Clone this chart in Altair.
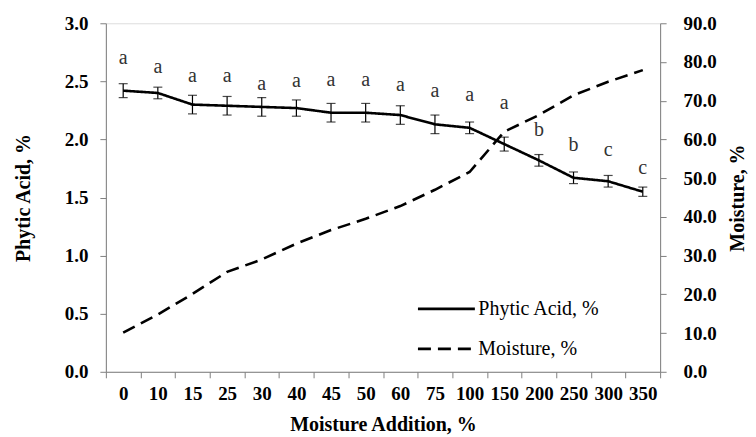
import altair as alt
import pandas as pd

categories = ["0", "10", "15", "25", "30", "40", "45", "50", "60", "75",
              "100", "150", "200", "250", "300", "350"]
phytic = [2.42, 2.40, 2.30, 2.29, 2.28, 2.27, 2.23, 2.23, 2.21, 2.13,
          2.10, 1.96, 1.82, 1.67, 1.64, 1.55]
phytic_err = [0.06, 0.05, 0.08, 0.08, 0.08, 0.07, 0.08, 0.08, 0.08, 0.08,
              0.05, 0.06, 0.05, 0.05, 0.05, 0.04]
moisture = [10.1, 14.8, 20.1, 25.8, 29.0, 33.1, 36.6, 39.5, 42.8, 47.0,
            51.6, 62.0, 66.3, 71.4, 74.9, 77.9]
letters = ["a"] * 12 + ["b", "b", "c", "c"]
letter_y = [2.70, 2.62, 2.55, 2.55, 2.48, 2.50, 2.51, 2.51, 2.47, 2.42,
            2.38, 2.31, 2.08, 1.95, 1.91, 1.75]
series_names = ["Phytic Acid, %", "Moisture, %"]

df = pd.DataFrame({
    "cat": categories,
    "phytic": phytic,
    "lo": [p - e for p, e in zip(phytic, phytic_err)],
    "hi": [p + e for p, e in zip(phytic, phytic_err)],
    "moisture": moisture,
    "letter": letters,
    "ly": letter_y,
    "s1": series_names[0],
    "s2": series_names[1],
})

FONT = "Liberation Serif"
AXC = "#808080"
LAB = 19
TIT = 20

x = alt.X("cat:N", sort=categories, title="Moisture Addition, %",
          scale=alt.Scale(paddingInner=0, paddingOuter=0),
          axis=alt.Axis(labelAngle=0, tickBand="extent", labelFont=FONT,
                        labelFontSize=LAB, labelFontWeight="bold", labelColor="black",
                        titleFont=FONT, titleFontSize=TIT, titleFontWeight="bold",
                        titleColor="black", domainColor=AXC, tickColor=AXC,
                        tickSize=6, labelPadding=7, titlePadding=11, grid=False))

yleft_scale = alt.Scale(domain=[0, 3], nice=False)
yleft_axis = alt.Axis(values=[0, 0.5, 1, 1.5, 2, 2.5, 3], format=".1f",
                      labelFont=FONT, labelFontSize=LAB, labelFontWeight="bold",
                      labelColor="black", titleFont=FONT, titleFontSize=TIT,
                      titleFontWeight="bold", titleColor="black", domainColor=AXC,
                      tickColor=AXC, tickSize=6, labelPadding=12, titlePadding=31,
                      grid=False)

dash_scale = alt.Scale(domain=series_names, range=[[1, 0], [13, 7]])

base = alt.Chart(df)

phy_line = base.mark_line(color="black", strokeWidth=2.6).encode(
    x=x,
    y=alt.Y("phytic:Q", scale=yleft_scale, axis=yleft_axis, title="Phytic Acid, %"),
    strokeDash=alt.StrokeDash("s1:N", scale=dash_scale, title=None,
                              legend=alt.Legend(title=None, orient="none", legendX=311,
                                                legendY=256, symbolType="stroke",
                                                symbolSize=3249, symbolStrokeWidth=2.6,
                                                symbolStrokeColor="black",
                                                labelFont=FONT, labelFontSize=20,
                                                labelColor="black", labelOffset=2,
                                                rowPadding=-2)),
)
err = base.mark_errorbar(ticks=alt.MarkConfig(size=9, color="black", strokeWidth=1.2),
                         color="black", thickness=1.2).encode(
    x=x,
    y=alt.Y("lo:Q", scale=yleft_scale, title="Phytic Acid, %"),
    y2="hi:Q",
)
lbl = base.mark_text(font=FONT, fontSize=20, color="#333333", baseline="middle").encode(
    x=x,
    y=alt.Y("ly:Q", scale=yleft_scale),
    text="letter:N",
)
left = alt.layer(phy_line, err, lbl)

moist_line = base.mark_line(color="black", strokeWidth=2.6).encode(
    x=x,
    y=alt.Y("moisture:Q", title="Moisture, %",
            scale=alt.Scale(domain=[0, 90], nice=False),
            axis=alt.Axis(orient="right", values=list(range(0, 91, 10)), format=".1f",
                          labelFont=FONT, labelFontSize=LAB, labelFontWeight="bold",
                          labelColor="black", titleFont=FONT, titleFontSize=TIT,
                          titleFontWeight="bold", titleColor="black",
                          titleAngle=270, titleBaseline="bottom",
                          domainColor=AXC, tickColor=AXC, tickSize=6,
                          labelPadding=17, titlePadding=31, grid=False)),
    strokeDash=alt.StrokeDash("s2:N", scale=dash_scale),
)

chart = alt.layer(left, moist_line).resolve_scale(y="independent").properties(
    width=555, height=349,
    padding={"left": 5, "top": 6, "right": 0, "bottom": 0},
).configure_view(stroke=None).configure(background="white")

chart.save("out.html", embed_options={"renderer": "svg", "actions": False})
